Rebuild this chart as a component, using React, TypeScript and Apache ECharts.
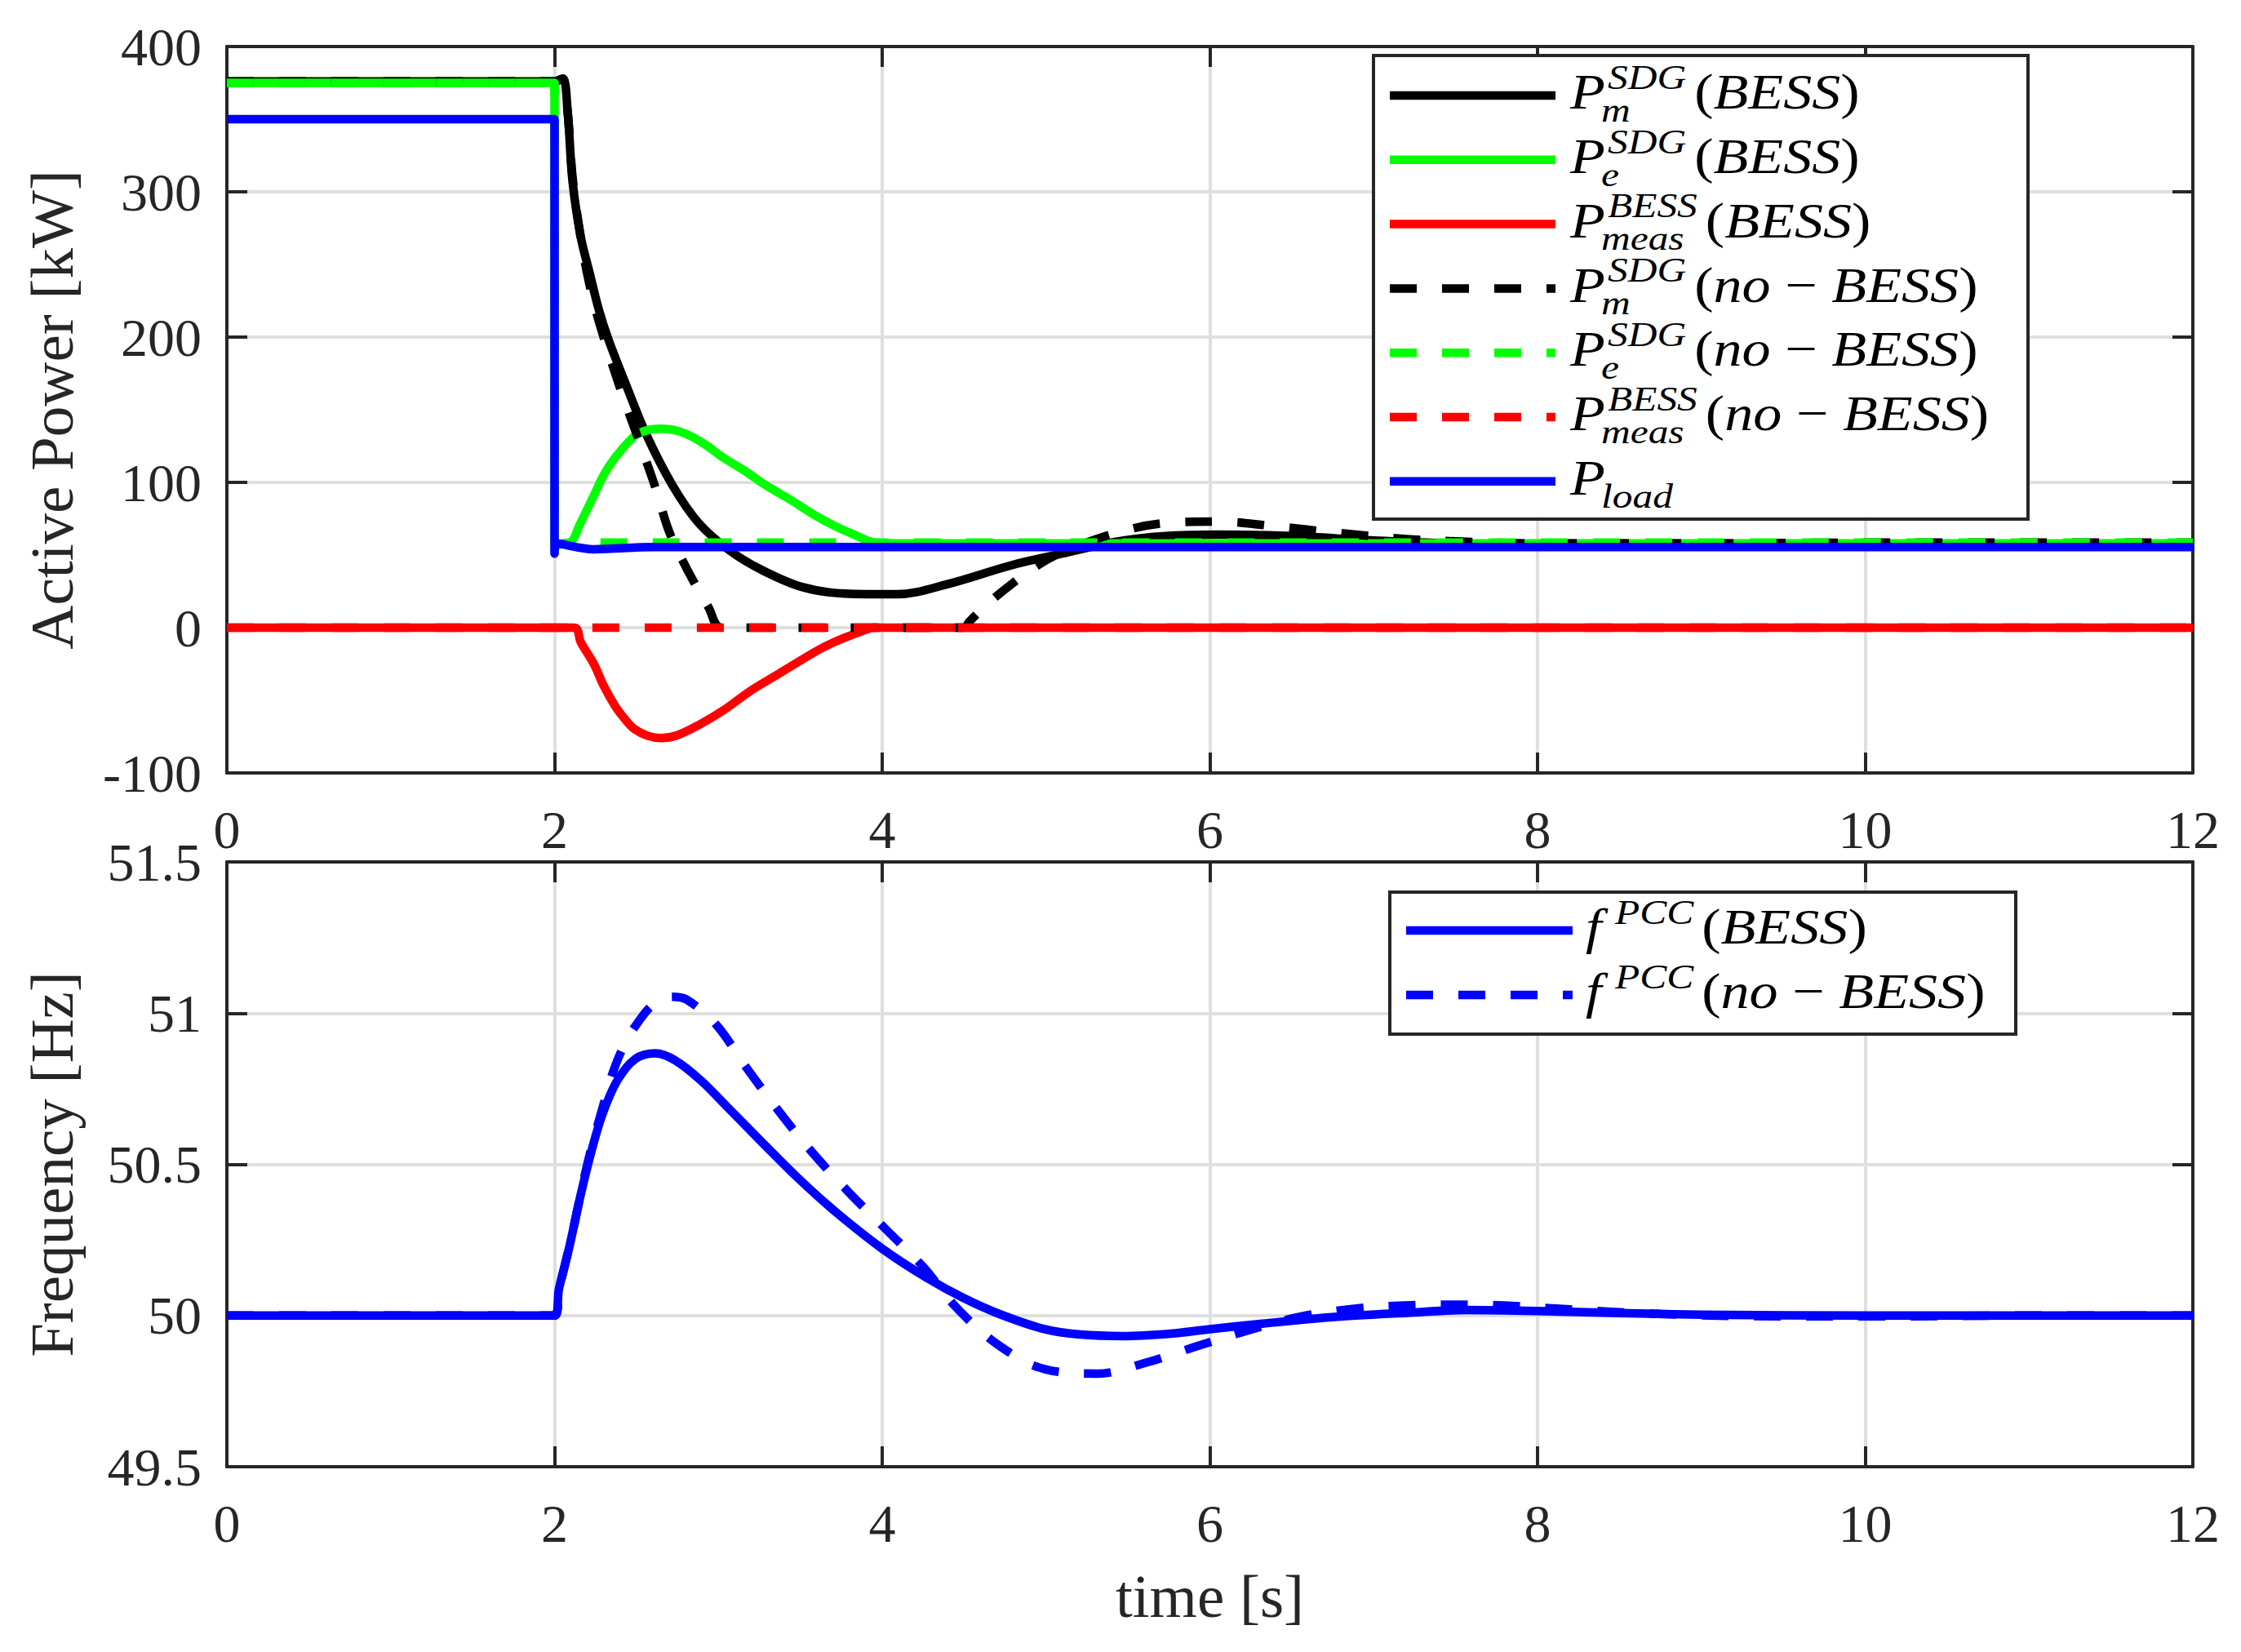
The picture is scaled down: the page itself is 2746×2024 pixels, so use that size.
import React, { useEffect, useRef } from 'react';
import * as echarts from 'echarts';

// ---------- data (time [s], value) ----------
const pmBess: [number, number][] = [
  [0, 376], [2.0, 376], [2.05, 378], [2.08, 355], [2.11, 307], [2.16, 269], [2.21, 246], [2.27, 219],
  [2.33, 198], [2.43, 169], [2.56, 133], [2.72, 98], [2.88, 72], [3.07, 53], [3.26, 40], [3.51, 28],
  [3.77, 23.5], [4.09, 23], [4.4, 30], [4.79, 43], [5.1, 51], [5.42, 59], [5.73, 63], [6.05, 64],
  [6.5, 63], [7.0, 60], [7.5, 58], [8, 57.5], [9, 57], [10, 57], [12, 57],
];
const peBess: [number, number][] = [
  [0, 375], [2.0, 375], [2.0, 57], [2.1, 59], [2.15, 70], [2.24, 91], [2.3, 105], [2.37, 117],
  [2.49, 132], [2.57, 136], [2.65, 137], [2.73, 136], [2.81, 133], [2.92, 126], [3.03, 117], [3.16, 108],
  [3.29, 98], [3.44, 88], [3.58, 78], [3.71, 70], [3.83, 64], [3.96, 58.5], [4.2, 58], [12, 58],
];
const pmeasBess: [number, number][] = [
  [0, 0], [2.12, 0], [2.16, -10], [2.24, -25], [2.3, -40], [2.37, -54], [2.43, -63], [2.49, -70],
  [2.57, -74.5], [2.65, -76], [2.75, -74], [2.88, -67], [3.03, -57], [3.19, -44], [3.35, -33],
  [3.51, -22], [3.65, -13], [3.77, -7], [3.9, -1.5], [3.94, 0], [12, 0],
];
const pmNoBess: [number, number][] = [
  [0, 376], [2.0, 376], [2.05, 378], [2.08, 355], [2.11, 310], [2.16, 268], [2.21, 238], [2.27, 211],
  [2.4, 165], [2.53, 124], [2.62, 95], [2.7, 66], [2.81, 40], [2.94, 14], [3.02, 0], [4.5, 0],
  [4.53, 4], [4.66, 18], [4.79, 30], [4.95, 43], [5.1, 52], [5.42, 65], [5.73, 72], [6.05, 73],
  [6.38, 70], [6.8, 65], [7.2, 61], [7.6, 59], [8, 58], [9, 58], [10, 58.5], [11, 58.5], [12, 58.5],
];
const peNoBess: [number, number][] = [
  [0, 375], [2.0, 375], [2.0, 57], [2.1, 58.5], [12, 58.5],
];
const pmeasNoBess: [number, number][] = [
  [0, 0], [12, 0],
];
const pLoad: [number, number][] = [
  [0, 350], [2.0, 350], [2.0, 51], [2.01, 58], [2.24, 54], [2.6, 55.5], [12, 55.5],
];

const fBess: [number, number][] = [
  [0, 50], [2.0, 50], [2.027, 50.088], [2.06, 50.16], [2.093, 50.233], [2.16, 50.4], [2.227, 50.547],
  [2.294, 50.668], [2.383, 50.777], [2.494, 50.849], [2.616, 50.867], [2.739, 50.843], [2.894, 50.777],
  [3.05, 50.692], [3.27, 50.571], [3.495, 50.45], [3.717, 50.342], [4.0, 50.221], [4.274, 50.124],
  [4.496, 50.058], [4.72, 50.004], [4.99, 49.955], [5.21, 49.937], [5.47, 49.932], [5.76, 49.94],
  [6.0, 49.955], [6.32, 49.973], [6.76, 49.995], [7.2, 50.009], [7.56, 50.018], [8, 50.015],
  [8.5, 50.008], [9, 50.003], [10, 50.0], [11, 50.0], [12, 50.0],
];
const fNoBess: [number, number][] = [
  [0, 50], [2.0, 50], [2.03, 50.09], [2.1, 50.25], [2.2, 50.5], [2.3, 50.7], [2.36, 50.81],
  [2.43, 50.9], [2.494, 50.958], [2.605, 51.03], [2.716, 51.054], [2.805, 51.045], [2.983, 50.964],
  [3.18, 50.813], [3.38, 50.668], [3.58, 50.535], [3.806, 50.402], [4.03, 50.281], [4.25, 50.161],
  [4.45, 50.028], [4.7, 49.906], [4.99, 49.823], [5.31, 49.808], [5.61, 49.844], [5.93, 49.9],
  [6.23, 49.95], [6.54, 49.995], [6.87, 50.022], [7.18, 50.033], [7.49, 50.036], [7.8, 50.033],
  [8.2, 50.02], [8.7, 50.006], [9.3, 49.998], [10, 49.997], [11, 50.0], [12, 50.0],
];

const timeRange = [0, 12, 2];
const powerRange = [-100, 400, 100];
const freqRange = [49.5, 51.5, 0.5];

// ---------- styling ----------
const FONT = 'Liberation Serif';
const AX = '#262626';
const GRIDC = '#dfdfdf';
const LW = 10.5;
const DASH = [33, 31];
const TICK_FS = 66;
const NAME_FS = 75;

const LEFT = 278;
const PLOT_W = 2409;
const G0_TOP = 57;
const G0_H = 890;
const G1_TOP = 1056;
const G1_H = 741;

type Chunk = [string, boolean];
interface LegItem {
  main: string; sup: string; sub: string; rest: Chunk[]; color: string; dashed: boolean;
}

const BESS_REST: Chunk[] = [['(', false], ['BESS', true], [')', false]];
const NOBESS_REST: Chunk[] = [['(', false], ['no', true], [' \u2212 ', false], ['BESS', true], [')', false]];

const topLegend: LegItem[] = [
  { main: 'P', sup: 'SDG', sub: 'm', rest: BESS_REST, color: '#000000', dashed: false },
  { main: 'P', sup: 'SDG', sub: 'e', rest: BESS_REST, color: '#00ff00', dashed: false },
  { main: 'P', sup: 'BESS', sub: 'meas', rest: BESS_REST, color: '#ff0000', dashed: false },
  { main: 'P', sup: 'SDG', sub: 'm', rest: NOBESS_REST, color: '#000000', dashed: true },
  { main: 'P', sup: 'SDG', sub: 'e', rest: NOBESS_REST, color: '#00ff00', dashed: true },
  { main: 'P', sup: 'BESS', sub: 'meas', rest: NOBESS_REST, color: '#ff0000', dashed: true },
  { main: 'P', sup: '', sub: 'load', rest: [], color: '#0000ff', dashed: false },
];
const bottomLegend: LegItem[] = [
  { main: 'f', sup: 'PCC', sub: '', rest: BESS_REST, color: '#0000ff', dashed: false },
  { main: 'f', sup: 'PCC', sub: '', rest: NOBESS_REST, color: '#0000ff', dashed: true },
];

const SX = 1.15; // horizontal stretch to mimic the wider LaTeX font
const MS = 61;   // main legend font size
const SS = 43;   // script font size

let ctx: CanvasRenderingContext2D | null = null;
function measure(text: string, size: number, italic: boolean): number {
  if (!ctx) ctx = document.createElement('canvas').getContext('2d');
  if (!ctx) return text.length * size * 0.5 * SX;
  ctx.font = `${italic ? 'italic ' : ''}${size}px "${FONT}"`;
  return ctx.measureText(text).width * SX;
}

function txt(text: string, x: number, baseline: number, size: number, italic: boolean) {
  return {
    type: 'text', z: 101,
    x, y: baseline - 0.3375 * size, scaleX: SX,
    style: {
      text, fontSize: size, fontFamily: FONT, fontStyle: italic ? 'italic' : 'normal',
      fill: '#000', align: 'left', verticalAlign: 'middle', lineHeight: Math.round(size * 0.8),
    },
  };
}

function buildLegend(items: LegItem[], box: { x: number; y: number; w: number; h: number },
  firstRow: number, step: number, lineX1: number, lineX2: number, textX: number,
  supOff: number, subOff: number) {
  const els: any[] = [];
  els.push({
    type: 'rect', z: 100,
    shape: { x: box.x, y: box.y, width: box.w, height: box.h },
    style: { fill: '#ffffff', stroke: AX, lineWidth: 4 },
  });
  items.forEach((it, i) => {
    const cy = firstRow + i * step;
    els.push({
      type: 'line', z: 101,
      shape: { x1: lineX1, y1: cy, x2: lineX2, y2: cy },
      style: { stroke: it.color, lineWidth: LW, lineDash: it.dashed ? DASH : null, lineCap: 'butt' },
    });
    const base = cy + 16;
    els.push(txt(it.main, textX, base, MS, true));
    let end = textX + measure(it.main, MS, true);
    if (it.sup) {
      els.push(txt(it.sup, textX + supOff, cy - 8, SS, true));
      end = Math.max(end, textX + supOff + measure(it.sup, SS, true));
    }
    if (it.sub) {
      els.push(txt(it.sub, textX + subOff, cy + 32, SS, true));
      end = Math.max(end, textX + subOff + measure(it.sub, SS, true));
    }
    let x = end + 10;
    it.rest.forEach(([s, ital]) => {
      els.push(txt(s, x, base, MS, ital));
      x += measure(s, MS, ital);
    });
  });
  return els;
}

function xAx(gridIndex: number, position: 'top' | 'bottom', labels: boolean, name?: string) {
  return {
    type: 'value', gridIndex, position,
    min: timeRange[0], max: timeRange[1], interval: timeRange[2],
    axisLine: { show: true, onZero: false, lineStyle: { color: AX, width: 4 } },
    axisTick: { show: true, inside: true, length: 25, lineStyle: { color: AX, width: 4 } },
    axisLabel: { show: labels, fontSize: TICK_FS, fontFamily: FONT, color: AX, margin: 36, showMinLabel: true, showMaxLabel: true },
    splitLine: { show: labels, lineStyle: { color: GRIDC, width: 4 } },
    name: name || '', nameLocation: 'middle', nameGap: 121,
    nameTextStyle: { fontSize: NAME_FS, fontFamily: FONT, color: AX },
  };
}
function yAx(gridIndex: number, position: 'left' | 'right', labels: boolean, r: number[], name?: string) {
  return {
    type: 'value', gridIndex, position,
    min: r[0], max: r[1], interval: r[2],
    axisLine: { show: true, onZero: false, lineStyle: { color: AX, width: 4 } },
    axisTick: { show: true, inside: true, length: 25, lineStyle: { color: AX, width: 4 } },
    axisLabel: { show: labels, fontSize: TICK_FS, fontFamily: FONT, color: AX, margin: 31, showMinLabel: true, showMaxLabel: true },
    splitLine: { show: labels, lineStyle: { color: GRIDC, width: 4 } },
    name: name || '', nameLocation: 'middle', nameGap: 177,
    nameTextStyle: { fontSize: NAME_FS, fontFamily: FONT, color: AX },
  };
}

function ser(name: string, data: [number, number][], color: string, dashed: boolean, xi: number, yi: number) {
  return {
    type: 'line', name, data, xAxisIndex: xi, yAxisIndex: yi,
    showSymbol: false, symbol: 'none', clip: false,
    smooth: 0.35,
    lineStyle: { color, width: LW, type: dashed ? DASH : 'solid', cap: 'butt', join: 'round' },
    emphasis: { disabled: true },
  };
}

export default function App() {
  const ref = useRef<HTMLDivElement>(null);
  useEffect(() => {
    if (!ref.current) return;
    const chart = echarts.init(ref.current, null, { renderer: 'svg' });
    const graphics = [
      ...buildLegend(topLegend, { x: 1683, y: 68, w: 802, h: 568 }, 117, 78.8, 1703, 1906, 1924, 46, 38),
      ...buildLegend(bottomLegend, { x: 1703, y: 1093, w: 767, h: 174 }, 1140, 79, 1723, 1927, 1943, 36, 30),
    ];
    chart.setOption({
      animation: false,
      backgroundColor: '#ffffff',
      textStyle: { fontFamily: FONT },
      grid: [
        { left: LEFT, top: G0_TOP, width: PLOT_W, height: G0_H },
        { left: LEFT, top: G1_TOP, width: PLOT_W, height: G1_H },
      ],
      xAxis: [
        xAx(0, 'bottom', true),
        xAx(0, 'top', false),
        xAx(1, 'bottom', true, 'time [s]'),
        xAx(1, 'top', false),
      ],
      yAxis: [
        yAx(0, 'left', true, powerRange, 'Active Power [kW]'),
        yAx(0, 'right', false, powerRange),
        yAx(1, 'left', true, freqRange, 'Frequency [Hz]'),
        yAx(1, 'right', false, freqRange),
      ],
      series: [
        ser('Pm SDG (BESS)', pmBess, '#000000', false, 0, 0),
        ser('Pe SDG (BESS)', peBess, '#00ff00', false, 0, 0),
        ser('Pmeas BESS (BESS)', pmeasBess, '#ff0000', false, 0, 0),
        ser('Pm SDG (no-BESS)', pmNoBess, '#000000', true, 0, 0),
        ser('Pe SDG (no-BESS)', peNoBess, '#00ff00', true, 0, 0),
        ser('Pmeas BESS (no-BESS)', pmeasNoBess, '#ff0000', true, 0, 0),
        ser('Pload', pLoad, '#0000ff', false, 0, 0),
        ser('fPCC (BESS)', fBess, '#0000ff', false, 2, 2),
        ser('fPCC (no-BESS)', fNoBess, '#0000ff', true, 2, 2),
      ],
      graphic: graphics,
    });
    return () => chart.dispose();
  }, []);
  return (
    <div
      ref={ref}
      style={{ position: 'absolute', left: 0, top: 0, width: 2746, height: 2024, background: '#fff' }}
    />
  );
}
